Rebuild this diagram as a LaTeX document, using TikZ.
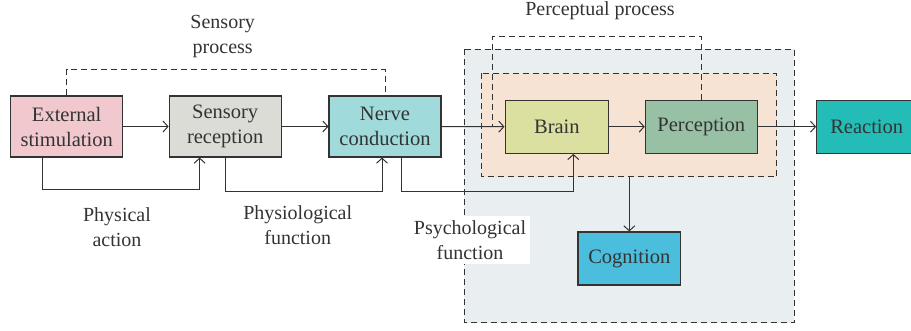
\documentclass[tikz,border=0pt]{standalone}
\usepackage{fontspec}
\setmainfont{Liberation Serif}
\usepackage{tikz}
\usetikzlibrary{arrows.meta,positioning}

\definecolor{extcol}{HTML}{F0C8CE}
\definecolor{reccol}{HTML}{DCDCD6}
\definecolor{nervecol}{HTML}{A0DADA}
\definecolor{braincol}{HTML}{DBE0A0}
\definecolor{percol}{HTML}{98C0A4}
\definecolor{reactcol}{HTML}{24BCB6}
\definecolor{cogcol}{HTML}{4ABEDC}
\definecolor{outercol}{HTML}{E9EEF1}
\definecolor{innercol}{HTML}{F6E3D3}
\definecolor{linecol}{HTML}{333333}

\begin{document}
\begin{tikzpicture}[x=1pt,y=-1pt]

\tikzset{stage/.style={draw=linecol, line width=1.1pt, minimum width=112pt, minimum height=61pt,
                       inner sep=0pt, align=center, font=\fontsize{20.5}{25}\selectfont, text=linecol},
         flow/.style={draw=linecol, line width=1pt, -{Straight Barb[length=5pt,width=11pt]}},
         region/.style={draw=linecol, line width=1pt, dash pattern=on 6pt off 4pt},
         caption/.style={align=center, font=\fontsize{20}{25.5}\selectfont, text=linecol}}

\useasboundingbox (0,0) rectangle (911,330);

% backgrounds
\fill[outercol] (464,49.3) rectangle (794,322.7);
\draw[region] (464,49.3) rectangle (794,322.7);
\fill[innercol] (481,73.3) rectangle (776.7,176.7);
\draw[region] (481,73.3) rectangle (776.7,176.7);

% stages
\node[stage, fill=extcol]   (ext)    at (66.7,126.5)  {External\\stimulation};
\node[stage, fill=reccol]   (rec)    at (225.2,126.5) {Sensory\\reception};
\node[stage, fill=nervecol] (nerve)  at (385,126.5)   {Nerve\\conduction};
\node[stage, fill=braincol, minimum width=103.7pt, minimum height=53.3pt] (brain) at (556.9,126.7) {Brain};
\node[stage, fill=percol, minimum width=112pt, minimum height=53.3pt]     (perc)  at (701.3,126.7) {Perception};
\node[stage, fill=reactcol, minimum width=110pt, minimum height=53.3pt]   (react) at (871.7,126.7) {\hspace*{-10pt}Reaction};
\node[stage, fill=cogcol, minimum width=102.7pt, minimum height=53pt]     (cog)   at (629.3,258.5) {Cognition};

% labels
\node[caption] (sensproc) at (222.7,36.5) {Sensory\\process};
\node[caption] (physact)  at (117,227)    {Physical\\action};
\node[caption] (physio)   at (297.7,225)  {Physiological\\function};
\node[caption, fill=white, inner sep=4pt] (psycho) at (470,240) {Psychological\\function};
\node[caption] (percproc) at (600,11) {Perceptual process};

% dashed brackets
\coordinate (pptop) at (492.7,36);
\draw[region] (ext.north) -- ++(0,-25.7) -| (nerve.north);
\draw[region] (perc.north) |- (pptop) -- (pptop |- brain.west);

% main chain
\draw[flow] (ext) -- (rec);
\draw[flow] (rec) -- (nerve);
\draw[flow] (nerve) -- (brain);
\draw[flow] (brain) -- (perc);
\draw[flow] (perc) -- (react);
\draw[flow] (629.3,176.7) -- (cog.north);

% side paths
\draw[flow] ([xshift=32pt]ext.south west) -- ++(0,32) -| ([xshift=31pt]rec.south west);
\draw[flow] (rec.south) -- ++(0,34) -| ([xshift=-3pt]nerve.south);
\draw[flow] ([xshift=16pt]nerve.south) -- ++(0,34) -| ([xshift=16.4pt]brain.south);

\end{tikzpicture}
\end{document}
